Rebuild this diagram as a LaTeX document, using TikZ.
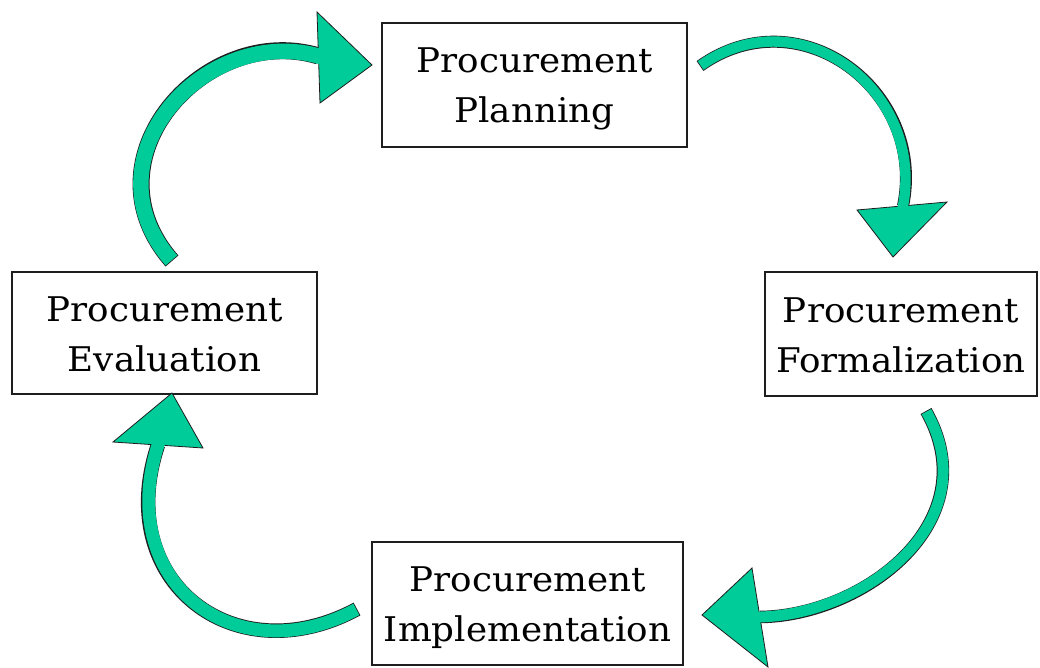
\documentclass[tikz,border=0pt]{standalone}
\usepackage{fontspec}
\setmainfont{DejaVu Serif}[FakeStretch=1.05]
\definecolor{cyclegreen}{RGB}{0,204,153}
\definecolor{inkline}{RGB}{30,30,30}
% struts that fix the height of the first line and the depth of the last one
\newcommand\capstrut{\rule{0pt}{34pt}}
\newcommand\descstrut{\rule[-8pt]{0pt}{8pt}}
\tikzset{
  stage/.style={draw=inkline, line width=1.3pt, fill=white, inner sep=0pt,
    align=center, font=\fontsize{34}{50}\selectfont},
  shaftedge/.style={draw=inkline, line width=#1, line cap=butt, line join=round},
  shaftfill/.style={draw=cyclegreen, line width=#1, line cap=butt, line join=round,
    shorten <=0.8pt, shorten >=-3pt},
  headtip/.style={fill=cyclegreen, draw=inkline, line width=0.8pt, line join=miter},
}
\begin{document}
\begin{tikzpicture}[x=1pt,y=-1pt]
\useasboundingbox (0,0) rectangle (1040,668);
\fill[white] (0,0) rectangle (1040,668);

% the four stages of the cycle
\node[stage, minimum width=305pt, minimum height=124pt] (plan) at (534.5,85)
  {\capstrut Procurement\\Planning\descstrut};
\node[stage, minimum width=272pt, minimum height=124pt] (form) at (901,334)
  {\capstrut Procurement\\Formalization\descstrut};
\node[stage, minimum width=311pt, minimum height=123pt] (impl) at (527.5,603.5)
  {\capstrut Procurement\\Implementation\descstrut};
\node[stage, minimum width=305pt, minimum height=122pt] (eval) at (164.5,333)
  {\capstrut Procurement\\Evaluation\descstrut};

% curved arrow: evaluation -> planning
\coordinate (a1tail) at (172,261);
\coordinate (a1base) at (318.5,56);
\coordinate (a1l) at (317,12);
\coordinate (a1r) at (320,103);
\coordinate (a1tip) at (372,65);
\def\arrowA{(a1tail) .. controls (82,158.5) and (206,22) .. (a1base)}
\draw[shaftedge=17pt] \arrowA;
\filldraw[headtip] (a1l) -- (a1tip) -- (a1r) -- cycle;
\draw[shaftfill=15.4pt] \arrowA;

% curved arrow: planning -> formalization
\coordinate (a2tail) at (700,66);
\coordinate (a2base) at (903,206);
\coordinate (a2l) at (857,210);
\coordinate (a2r) at (947,202);
\coordinate (a2tip) at (893,257);
\def\arrowB{(a2tail) .. controls (800,-5) and (927,91) .. (a2base)}
\draw[shaftedge=12pt] \arrowB;
\filldraw[headtip] (a2l) -- (a2tip) -- (a2r) -- cycle;
\draw[shaftfill=10.4pt] \arrowB;

% curved arrow: formalization -> implementation
\coordinate (a3tail) at (926,411);
\coordinate (a3base) at (760,617);
\coordinate (a3l) at (752,568);
\coordinate (a3r) at (768,667);
\coordinate (a3tip) at (702,615);
\def\arrowC{(a3tail) .. controls (989,522) and (863,616) .. (a3base)}
\draw[shaftedge=12.5pt] \arrowC;
\filldraw[headtip] (a3l) -- (a3tip) -- (a3r) -- cycle;
\draw[shaftfill=10.9pt] \arrowC;

% curved arrow: implementation -> evaluation
\coordinate (a4tail) at (357,609);
\coordinate (a4base) at (158,445);
\coordinate (a4l) at (113,442);
\coordinate (a4r) at (203,448);
\coordinate (a4tip) at (172,393);
\def\arrowD{(a4tail) .. controls (235,675) and (112,582) .. (a4base)}
\draw[shaftedge=14.5pt] \arrowD;
\filldraw[headtip] (a4l) -- (a4tip) -- (a4r) -- cycle;
\draw[shaftfill=12.9pt] \arrowD;
\end{tikzpicture}
\end{document}
